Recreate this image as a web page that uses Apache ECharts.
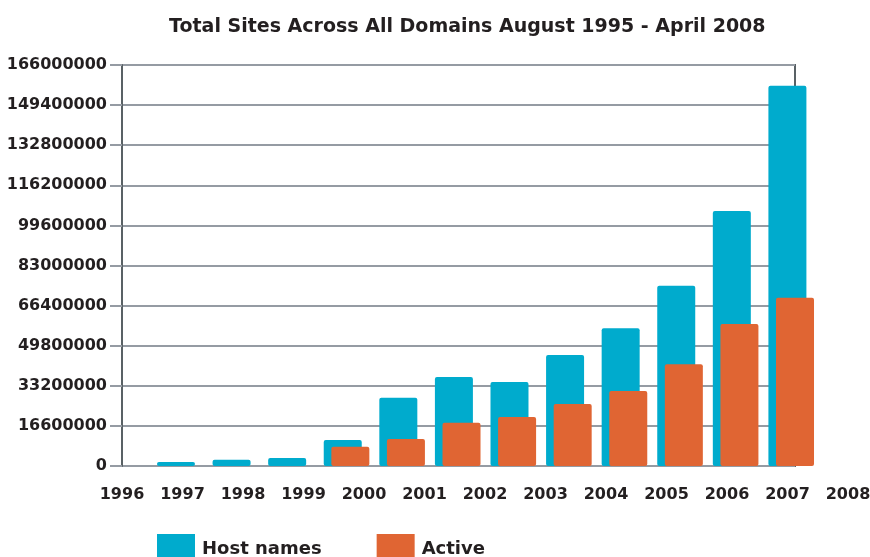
<!DOCTYPE html>
<html>
    <head>
        <meta charset="utf-8">
        <title>Total Sites Across All Domains</title>
        <script src="https://cdn.jsdelivr.net/npm/echarts@6/dist/echarts.min.js"></script>
    </head>
    <body style="margin:0">
        <div id="main" style="width: 870px;height: 557px;"></div>
        <script>
            // one bar pair per survey, years on the axis below
            let periods = ['1996', '1997', '1998', '1999', '2000', '2001', '2002', '2003', '2004', '2005', '2006', '2007'];
            let hostNames = [1700000, 2600000, 3300000, 10800000, 28300000, 36800000, 34800000, 45900000, 57000000, 74600000, 105600000, 157400000];
            let active = ['-', '-', '-', 8000000, 11200000, 17900000, 20300000, 25700000, 31000000, 42100000, 58800000, 69700000];
            let yearMin = 1996, yearMax = 2008;
            let yMax = 166000000, yStep = 16600000;

            let font = 'DejaVu Sans';
            let dark = '#231f20';
            let plain = function (v) { return String(v); };

            var option = {
                animation: false,
                title: {
                    text: 'Total Sites Across All Domains August 1995 - April 2008',
                    left: 164,
                    top: 13,
                    textStyle: { fontFamily: font, fontWeight: 'bold', fontSize: 19, color: dark }
                },
                legend: {
                    left: 152,
                    top: 529,
                    itemWidth: 38,
                    itemHeight: 30,
                    itemGap: 55,
                    icon: 'rect',
                    textStyle: { fontFamily: font, fontWeight: 'bold', fontSize: 18, color: dark, padding: [0, 0, 0, 2] },
                    data: ['Host names', 'Active']
                },
                grid: [
                    { left: 122, right: 75, top: 65, bottom: 91, outerBoundsMode: 'none', show: true, borderColor: '#596165', borderWidth: 2 },
                    { left: 152, right: 51, top: 65, bottom: 91, outerBoundsMode: 'none' },
                    { left: 122, right: 22, top: 65, bottom: 91, outerBoundsMode: 'none' }
                ],
                xAxis: [
                    { gridIndex: 0, type: 'value', min: 0, max: 1, show: false },
                    { gridIndex: 1, type: 'category', data: periods, show: false },
                    {
                        gridIndex: 2, type: 'value', min: yearMin, max: yearMax, interval: 1,
                        axisLine: { show: false }, axisTick: { show: false }, splitLine: { show: false },
                        axisLabel: { margin: 21, formatter: plain, fontFamily: font, fontWeight: 'bold', fontSize: 16, color: dark, showMinLabel: true, showMaxLabel: true }
                    }
                ],
                yAxis: [
                    {
                        gridIndex: 0, type: 'value', min: 0, max: yMax, interval: yStep,
                        axisLine: { show: true, lineStyle: { color: '#596165', width: 2 } },
                        axisTick: { show: true, length: 12, lineStyle: { color: '#959ba3', width: 2 } },
                        splitLine: { lineStyle: { color: '#959ba3', width: 2 } },
                        axisLabel: { margin: 15, formatter: plain, fontFamily: font, fontWeight: 'bold', fontSize: 16, color: dark }
                    },
                    { gridIndex: 1, type: 'value', min: 0, max: yMax, show: false },
                    { gridIndex: 2, type: 'value', min: 0, max: 1, show: false }
                ],
                series: [
                    {
                        name: 'Host names',
                        type: 'bar',
                        xAxisIndex: 1,
                        yAxisIndex: 1,
                        data: hostNames,
                        barWidth: 38,
                        barGap: '-80%',
                        itemStyle: { color: '#00abcd', borderRadius: 2 }
                    },
                    {
                        name: 'Active',
                        type: 'bar',
                        xAxisIndex: 1,
                        yAxisIndex: 1,
                        data: active,
                        barWidth: 38,
                        itemStyle: { color: '#e06533', borderRadius: 2 }
                    }
                ]
            };
            let chart = echarts.init(document.getElementById('main'));
            chart.setOption(option);
        </script>
    </body>
</html>
